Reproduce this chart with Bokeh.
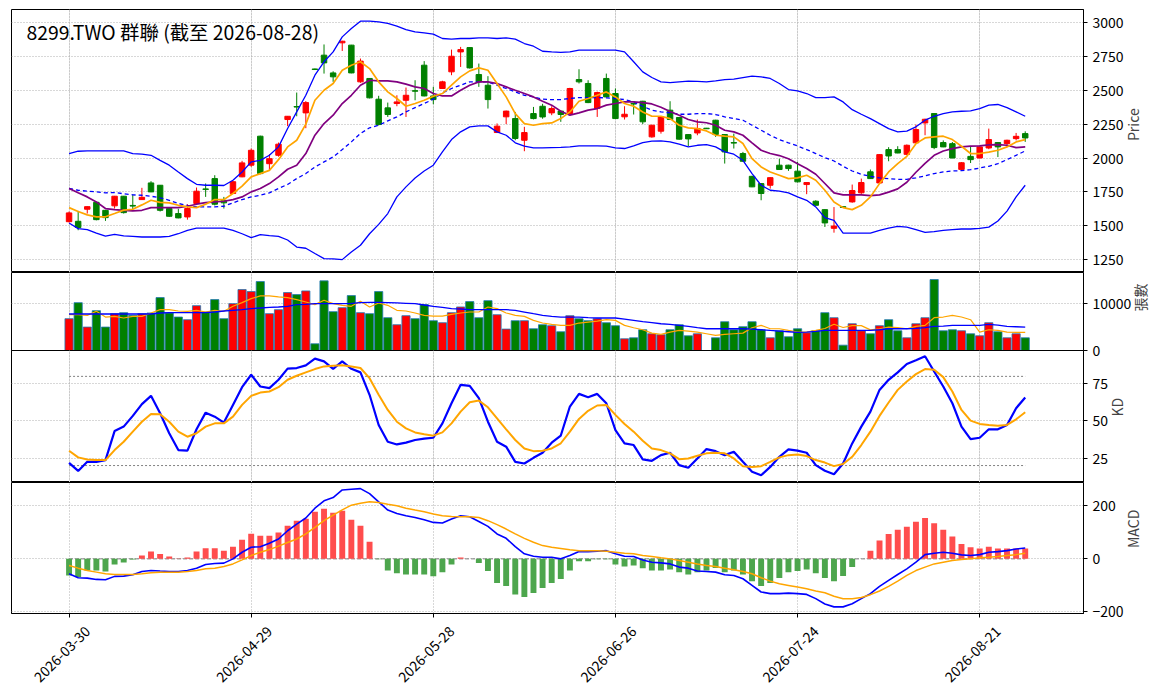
from math import pi

from bokeh.embed import file_html
from bokeh.layouts import column
from bokeh.models import ColumnDataSource, FixedTicker, Grid, Label, LinearAxis, Range1d
from bokeh.plotting import figure
from bokeh.resources import INLINE

TITLE = "8299.TWO 群聯 (截至 2026-08-28)"
FONT = "Noto Sans CJK TC"

# x positions of the date ticks (trading-day index) and their labels
tick_pos = [0, 20, 40, 60, 80, 100]
tick_dates = ["2026-03-30", "2026-04-29", "2026-05-28", "2026-06-26", "2026-07-24", "2026-08-21"]

price_ticks = [1250, 1500, 1750, 2000, 2250, 2500, 2750, 3000]
vol_ticks = [0, 10000]
kd_ticks = [25, 50, 75]
macd_ticks = [-200, 0, 200]
kd_levels = [20, 80]

open_ = [1530, 1533, 1622, 1673, 1614, 1647, 1718, 1650, 1693, 1816,
         1799, 1627, 1590, 1565, 1664, 1772, 1848, 1688, 1738, 1861,
         1947, 2161, 1958, 2020, 2284, 2380, 2333, 2657, 2759, 2628,
         2850, 2833, 2562, 2587, 2434, 2370, 2402, 2426, 2497, 2685,
         2458, 2513, 2636, 2783, 2815, 2616, 2537, 2188, 2304, 2291,
         2131, 2328, 2382, 2333, 2346, 2328, 2579, 2550, 2365, 2587,
         2476, 2304, 2402, 2419, 2156, 2198, 2353, 2299, 2173, 2185,
         2220, 2279, 2173, 2114, 2033, 1865, 1811, 1799, 1947, 1947,
         1903, 1804, 1681, 1619, 1481, 1641, 1676, 1743, 1898, 1816,
         2062, 2062, 2027, 2112, 2259, 2328, 2114, 2106, 1916, 2012,
         2000, 2074, 2114, 2106, 2143, 2180]
high = [1605, 1610, 1643, 1675, 1616, 1720, 1720, 1730, 1780, 1829,
        1800, 1632, 1625, 1659, 1782, 1812, 1873, 1713, 1830, 1979,
        2070, 2165, 2028, 2114, 2310, 2483, 2420, 2660, 2838, 2640,
        2865, 2835, 2734, 2590, 2459, 2409, 2463, 2520, 2574, 2715,
        2525, 2570, 2800, 2820, 2818, 2697, 2604, 2255, 2350, 2340,
        2230, 2377, 2400, 2382, 2350, 2518, 2655, 2574, 2490, 2623,
        2513, 2382, 2405, 2422, 2245, 2306, 2419, 2302, 2176, 2284,
        2222, 2282, 2176, 2180, 2045, 1868, 1815, 1858, 1995, 1950,
        1971, 1822, 1688, 1622, 1638, 1642, 1804, 1848, 1915, 2028,
        2080, 2087, 2100, 2247, 2290, 2330, 2130, 2118, 1970, 2082,
        2085, 2217, 2118, 2135, 2185, 2197]
low = [1525, 1467, 1590, 1540, 1536, 1627, 1590, 1620, 1690, 1748,
       1605, 1565, 1555, 1545, 1660, 1713, 1650, 1627, 1735, 1858,
       1935, 1880, 1910, 2010, 2235, 2308, 2220, 2650, 2623, 2562,
       2790, 2625, 2555, 2440, 2240, 2303, 2382, 2303, 2426, 2455,
       2397, 2510, 2611, 2672, 2660, 2525, 2365, 2185, 2250, 2131,
       2050, 2285, 2290, 2316, 2267, 2325, 2550, 2405, 2303, 2448,
       2288, 2284, 2321, 2250, 2150, 2180, 2280, 2135, 2087, 2168,
       2214, 2156, 1959, 2070, 1975, 1785, 1688, 1774, 1913, 1905,
       1820, 1733, 1648, 1491, 1449, 1633, 1670, 1735, 1845, 1812,
       1976, 2035, 2020, 2108, 2168, 2065, 2080, 1998, 1905, 1963,
       1998, 2065, 2007, 2082, 2130, 2119]
close = [1595, 1487, 1641, 1545, 1560, 1718, 1597, 1645, 1710, 1750,
         1614, 1570, 1558, 1627, 1755, 1768, 1659, 1669, 1825, 1964,
         2057, 1885, 1995, 2102, 2308, 2376, 2409, 2653, 2702, 2599,
         2862, 2628, 2715, 2444, 2247, 2321, 2414, 2463, 2493, 2458,
         2431, 2562, 2751, 2800, 2665, 2562, 2431, 2235, 2346, 2144,
         2188, 2291, 2303, 2365, 2321, 2513, 2562, 2409, 2483, 2451,
         2291, 2323, 2398, 2267, 2242, 2304, 2284, 2139, 2141, 2218,
         2216, 2173, 2045, 2110, 1976, 1787, 1738, 1855, 1915, 1922,
         1824, 1819, 1651, 1521, 1498, 1635, 1760, 1819, 1848, 2025,
         2015, 2037, 2094, 2210, 2286, 2077, 2082, 2000, 1965, 1988,
         2082, 2136, 2082, 2131, 2160, 2148]

ma5 = [1634, 1605, 1580, 1566, 1566, 1590, 1615, 1622, 1654, 1688,
       1672, 1669, 1651, 1639, 1634, 1659, 1693, 1693, 1738, 1792,
       1861, 1885, 1909, 1988, 2082, 2131, 2250, 2426, 2500, 2550,
       2648, 2685, 2710, 2660, 2562, 2488, 2439, 2382, 2402, 2426,
       2456, 2476, 2537, 2599, 2643, 2665, 2648, 2550, 2451, 2328,
       2254, 2242, 2254, 2259, 2291, 2340, 2419, 2439, 2463, 2488,
       2451, 2402, 2382, 2340, 2308, 2308, 2291, 2242, 2222, 2217,
       2200, 2168, 2161, 2156, 2107, 1995, 1934, 1897, 1873, 1848,
       1853, 1873, 1836, 1762, 1676, 1634, 1619, 1651, 1713, 1811,
       1897, 1958, 2012, 2106, 2148, 2156, 2161, 2136, 2087, 2033,
       2033, 2043, 2057, 2082, 2119, 2136]
ma10 = [1775, 1743, 1713, 1676, 1627, 1619, 1614, 1610, 1614, 1634,
        1634, 1634, 1634, 1644, 1659, 1671, 1676, 1681, 1693, 1713,
        1750, 1775, 1811, 1861, 1917, 1947, 2033, 2168, 2254, 2316,
        2402, 2463, 2537, 2574, 2569, 2569, 2562, 2545, 2525, 2513,
        2476, 2458, 2458, 2500, 2537, 2562, 2562, 2550, 2525, 2500,
        2476, 2451, 2419, 2390, 2345, 2316, 2333, 2353, 2365, 2390,
        2402, 2414, 2414, 2409, 2399, 2375, 2343, 2316, 2284, 2267,
        2260, 2242, 2205, 2193, 2168, 2112, 2057, 2033, 2018, 1995,
        1958, 1922, 1880, 1812, 1743, 1728, 1728, 1728, 1723, 1728,
        1748, 1772, 1821, 1895, 1961, 2020, 2052, 2069, 2082, 2087,
        2089, 2097, 2099, 2094, 2077, 2082]
bb_mid = [1775, 1762, 1755, 1750, 1743, 1745, 1736, 1728, 1725, 1718,
          1706, 1688, 1664, 1651, 1639, 1639, 1639, 1644, 1669, 1693,
          1713, 1725, 1743, 1775, 1805, 1848, 1885, 1934, 1971, 2008,
          2062, 2119, 2181, 2223, 2242, 2274, 2304, 2340, 2372, 2402,
          2434, 2480, 2513, 2537, 2562, 2562, 2562, 2537, 2513, 2488,
          2463, 2451, 2434, 2431, 2431, 2439, 2446, 2446, 2446, 2444,
          2439, 2431, 2414, 2382, 2353, 2340, 2333, 2323, 2323, 2328,
          2328, 2321, 2304, 2291, 2279, 2242, 2205, 2168, 2136, 2112,
          2089, 2062, 2033, 2003, 1978, 1939, 1904, 1880, 1865, 1853,
          1848, 1843, 1843, 1853, 1868, 1885, 1897, 1904, 1907, 1914,
          1926, 1939, 1958, 1988, 2020, 2052]
bb_up = [2033, 2050, 2052, 2052, 2052, 2052, 2052, 2033, 2028, 2020,
         1983, 1947, 1897, 1848, 1806, 1799, 1799, 1797, 1836, 1897,
         1971, 1983, 2020, 2082, 2218, 2340, 2463, 2611, 2710, 2783,
         2894, 2956, 3010, 3010, 3005, 2993, 2973, 2948, 2931, 2924,
         2914, 2882, 2877, 2882, 2882, 2887, 2887, 2882, 2887, 2877,
         2845, 2825, 2788, 2783, 2780, 2783, 2796, 2796, 2796, 2796,
         2796, 2783, 2710, 2636, 2594, 2562, 2557, 2562, 2567, 2565,
         2562, 2569, 2579, 2582, 2594, 2604, 2599, 2587, 2550, 2505,
         2495, 2476, 2446, 2446, 2451, 2414, 2357, 2323, 2291, 2254,
         2217, 2193, 2198, 2230, 2279, 2308, 2328, 2340, 2345, 2348,
         2365, 2390, 2395, 2372, 2340, 2308]
bb_low = [1520, 1479, 1472, 1446, 1424, 1437, 1425, 1422, 1417, 1417,
          1417, 1422, 1441, 1466, 1483, 1483, 1483, 1483, 1466, 1441,
          1412, 1434, 1427, 1422, 1395, 1343, 1334, 1295, 1257, 1255,
          1250, 1307, 1356, 1441, 1510, 1590, 1713, 1787, 1853, 1904,
          1947, 2045, 2136, 2193, 2230, 2237, 2237, 2193, 2168, 2112,
          2087, 2075, 2075, 2077, 2078, 2082, 2089, 2089, 2089, 2087,
          2075, 2070, 2089, 2114, 2124, 2126, 2119, 2102, 2082, 2094,
          2099, 2082, 2045, 2028, 1983, 1885, 1799, 1762, 1755, 1743,
          1713, 1688, 1639, 1560, 1540, 1446, 1446, 1446, 1446, 1466,
          1483, 1495, 1490, 1471, 1451, 1456, 1466, 1471, 1476, 1476,
          1480, 1490, 1535, 1608, 1713, 1799]

volume = [6790, 10210, 5000, 8500, 5000, 7860, 8070, 7500, 7860, 8000,
          11290, 8000, 7140, 6570, 9570, 8210, 10860, 6790, 10000, 13000,
          12570, 14710, 7860, 8710, 12360, 11930, 12710, 1430, 14860, 8290,
          9140, 11710, 8070, 7860, 12570, 7000, 5500, 7430, 6790, 9790,
          6360, 5930, 8070, 9290, 10430, 7000, 10640, 7640, 4570, 6360,
          6360, 4640, 5500, 5290, 4000, 7430, 6790, 6360, 6790, 5930,
          5290, 2500, 2710, 4430, 3570, 3360, 4430, 5500, 3140, 3570,
          0, 2710, 6140, 4430, 5070, 6140, 4430, 2710, 4210, 2930,
          4640, 3790, 4210, 8070, 7000, 1140, 5710, 4210, 3570, 5290,
          6570, 4210, 2710, 5710, 7000, 15140, 4210, 4430, 4210, 3570,
          3140, 5930, 4000, 2710, 3570, 2710]
vol_ma5 = [7640, 7640, 7500, 8360, 7140, 7280, 6930, 7280, 7280, 8000,
           8710, 8710, 8430, 8360, 8570, 8210, 8570, 8360, 9430, 10210,
           11070, 11640, 11640, 11430, 11290, 10850, 10350, 9780, 10710, 10000,
           9640, 9430, 10500, 9280, 10140, 9640, 8570, 8430, 8000, 7500,
           7350, 7350, 7710, 8000, 8210, 8210, 9280, 8930, 8000, 7500,
           7280, 6430, 5860, 5570, 5360, 5360, 5860, 6070, 6280, 6570,
           6430, 5360, 4860, 4430, 3710, 3430, 3930, 4280, 4140, 3930,
           3570, 3210, 3430, 3570, 3710, 4860, 5360, 4640, 4640, 4280,
           3930, 3930, 4280, 4700, 5600, 4900, 5300, 5300, 4400, 4640,
           5000, 4860, 4640, 5140, 5360, 7000, 7140, 7500, 7140, 6570,
           3930, 4430, 4280, 3930, 3860, 3860]
vol_ma20 = [7790, 7790, 7790, 7790, 7790, 7790, 7790, 7790, 7790, 7790,
            8000, 8070, 8070, 8070, 8070, 8070, 8210, 8430, 8570, 8710,
            8930, 9070, 9210, 9280, 9430, 9780, 9850, 10000, 10000, 10000,
            10000, 10070, 10210, 10280, 10280, 10210, 10140, 10070, 10000, 9710,
            9430, 9210, 8930, 8850, 8710, 8710, 8710, 8710, 8710, 8570,
            8210, 7850, 7500, 7280, 7140, 7140, 7140, 7000, 6930, 6930,
            6930, 6710, 6430, 6140, 5930, 5710, 5570, 5360, 5140, 4860,
            4640, 4640, 4640, 4640, 4640, 4570, 4430, 4280, 4140, 4000,
            3860, 3930, 4070, 4280, 4280, 4280, 4280, 4280, 4280, 4430,
            4640, 4640, 4640, 4710, 4860, 5140, 5210, 5360, 5360, 5360,
            5360, 5570, 5430, 5140, 5070, 5000]

k_line = [21.8, 16.4, 22.5, 22.5, 23.7, 43.2, 46.2, 53.4, 61.3, 66.9,
          55.2, 41.7, 30.4, 30.0, 44.4, 55.6, 52.9, 48.9, 60.8, 72.7,
          81.1, 73.2, 72.1, 77.7, 85.2, 85.6, 87.4, 91.9, 90.1, 85.1,
          90.1, 85.1, 82.7, 67.6, 47.3, 36.0, 34.2, 35.4, 37.2, 38.1,
          38.7, 48.4, 61.9, 74.3, 73.6, 65.3, 49.5, 36.0, 32.7, 22.5,
          21.4, 25.2, 28.6, 35.4, 40.2, 59.7, 68.2, 66.0, 68.2, 61.9,
          43.9, 34.9, 33.8, 24.1, 23.2, 27.0, 28.6, 20.3, 18.5, 24.8,
          31.1, 29.7, 27.0, 29.3, 22.5, 15.8, 13.5, 19.1, 25.9, 30.9,
          30.0, 28.6, 20.3, 16.5, 14.2, 21.4, 34.9, 46.2, 56.3, 70.9,
          77.7, 82.7, 88.3, 90.8, 93.5, 83.3, 73.2, 61.9, 46.2, 37.8,
          38.7, 44.4, 44.4, 47.3, 58.6, 65.8]
d_line = [30.0, 25.5, 24.1, 23.7, 23.7, 30.4, 36.0, 42.8, 49.5, 54.7,
          54.5, 49.5, 42.8, 39.4, 41.7, 46.2, 48.4, 48.4, 52.9, 60.8,
          66.9, 69.1, 69.8, 72.7, 77.7, 80.4, 82.7, 84.9, 86.7, 87.2,
          87.4, 86.7, 85.6, 78.8, 67.6, 57.4, 49.5, 45.0, 42.3, 41.0,
          40.1, 42.3, 48.4, 56.3, 62.6, 63.7, 59.2, 51.8, 44.4, 37.2,
          31.5, 29.7, 30.0, 31.5, 35.0, 42.8, 51.4, 56.8, 60.4, 60.8,
          54.1, 48.0, 42.8, 36.7, 31.5, 30.4, 28.2, 24.3, 24.8, 26.6,
          28.2, 28.6, 28.2, 24.8, 19.6, 19.1, 19.6, 22.5, 25.5, 27.0,
          27.5, 26.4, 23.7, 22.0, 19.6, 21.0, 25.9, 33.8, 42.8, 53.4,
          62.4, 70.9, 76.6, 81.5, 84.9, 84.5, 79.5, 69.8, 57.4, 50.2,
          48.0, 47.3, 46.8, 47.3, 51.1, 55.9]

macd_hist = [-62.5, -68.8, -43.8, -43.8, -47.5, -21.0, -14.0, -2.0, 12.5, 27.5,
             18.8, 8.8, 1.0, 5.0, 27.5, 40.0, 40.0, 31.0, 46.0, 72.5,
             95.0, 87.5, 87.5, 99.0, 125.0, 144.0, 151.0, 177.5, 189.0, 174.0,
             181.0, 147.5, 125.0, 65.0, -1.0, -44.0, -54.0, -59.0, -59.0, -59.0,
             -66.0, -50.0, -21.0, 5.0, 0.5, -16.0, -46.0, -91.0, -102.5, -134.0,
             -144.0, -129.0, -110.0, -91.0, -76.0, -44.0, -9.0, -9.0, -1.0, -1.0,
             -21.0, -29.0, -25.0, -35.0, -44.0, -44.0, -40.0, -50.0, -59.0, -50.0,
             -44.0, -34.0, -50.0, -44.0, -59.0, -84.0, -102.5, -91.0, -72.5, -50.0,
             -46.0, -40.0, -54.0, -72.0, -84.0, -65.0, -31.0, 0.5, 31.0, 69.0,
             94.0, 110.0, 121.0, 140.0, 154.0, 134.0, 110.0, 84.0, 56.0, 44.0,
             39.0, 46.0, 39.0, 39.0, 39.0, 39.0]
dif = [-56, -71, -72.5, -77.5, -79, -66, -65, -60, -47.5, -44,
       -46, -47.5, -47.5, -44, -35, -21, -17.5, -16, 0, 25,
       44, 46, 59, 75, 106, 131, 154, 191, 219, 231,
       260, 262.5, 265, 246, 215, 184, 171, 162.5, 156, 147.5,
       137.5, 135, 150, 162.5, 159, 141, 122.5, 94, 77.5, 46,
       19, 10, 6, 6, 0, 12.5, 27.5, 27.5, 29, 31,
       19, 10, 9, -4, -12.5, -15, -19, -31, -35, -46,
       -47.5, -50, -60, -62.5, -75, -100, -125, -131, -131, -129,
       -131, -134, -150, -170, -181, -181, -169, -150, -131, -104,
       -81, -59, -37.5, -12.5, 16, 21, 25, 21, 15, 12.5,
       16, 25, 27.5, 31, 37.5, 41]
dea = [-25, -35, -44, -50, -56, -59, -59, -59, -56, -52.5,
       -50, -50, -50, -47.5, -44, -37.5, -35, -29, -19, -4,
       12.5, 25, 35, 48, 62, 75, 94, 119, 144, 165,
       185, 202.5, 210, 215, 212.5, 206, 200, 191, 184, 177.5,
       169, 162.5, 160, 159, 159, 156, 144, 129, 112.5, 94,
       77.5, 62.5, 50, 44, 39, 34, 31, 31, 31, 29,
       25, 21, 19, 12.5, 9, 4, 0, -6, -12.5, -19,
       -25, -29, -35, -41, -47.5, -56, -71, -84, -94, -100,
       -106, -112.5, -121, -128, -141, -150, -150, -146, -135, -121,
       -104, -84, -62.5, -44, -31, -19, -12.5, -6, -2.5, 0,
       4, 6, 9, 12.5, 16, 21]

n = len(close)
idx = list(range(n))
UP, DOWN = "#ff0000", "#008000"
candle_color = [UP if c >= o else DOWN for o, c in zip(open_, close)]

source = ColumnDataSource(dict(
    x=idx, open=open_, high=high, low=low, close=close,
    top=[max(o, c) for o, c in zip(open_, close)],
    bottom=[min(o, c) for o, c in zip(open_, close)],
    color=candle_color, volume=volume,
    ma5=ma5, ma10=ma10, bb_mid=bb_mid, bb_up=bb_up, bb_low=bb_low,
    vol_ma5=vol_ma5, vol_ma20=vol_ma20, k=k_line, d=d_line,
    hist=macd_hist, dif=dif, dea=dea,
    hist_color=["#ff4d4d" if h >= 0 else "#4da64d" for h in macd_hist],
))

X_START, X_END = -6.32, 111.4
x_range = Range1d(X_START, X_END)
GRID = "#b0b0b0"
FRAME_W = 1072
LABEL_SHIFT = 2.0  # date labels are centred on their tick, Bokeh ends them there
OVERLAP = 12       # strip under the volume panel that the KD panel covers


def make_panel(frame_height, y_start, y_end, ticks, label, bottom_axis=False,
               top=0, bottom=0):
    p = figure(frame_width=FRAME_W, frame_height=frame_height, x_range=x_range,
               y_range=Range1d(y_start, y_end), y_axis_location="right",
               x_axis_location="below" if bottom_axis else None,
               toolbar_location=None, tools="", output_backend="svg",
               min_border_left=11, min_border_top=top, min_border_bottom=bottom,
               min_border_right=10)
    p.outline_line_color = "black"
    p.outline_line_width = 1
    p.background_fill_color = "white"

    ax = p.yaxis[0]
    ax.ticker = FixedTicker(ticks=ticks)
    ax.minor_tick_line_color = None
    ax.major_tick_in = 0
    ax.major_tick_out = 4
    ax.axis_line_color = "black"
    ax.major_label_text_font = FONT
    ax.major_label_text_font_size = "14px"
    ax.major_label_text_color = "black"
    ax.axis_label = label
    ax.axis_label_text_font = FONT
    ax.axis_label_text_font_size = "14px"
    ax.axis_label_text_font_style = "normal"
    ax.axis_label_standoff = 6
    ax.axis_label_orientation = pi / 2

    p.ygrid.grid_line_color = GRID
    p.ygrid.grid_line_dash = "1 2"
    if bottom_axis:
        # tick marks only
        xa = p.xaxis[0]
        xa.ticker = FixedTicker(ticks=tick_pos)
        xa.major_label_overrides = {t: "" for t in tick_pos}
        xa.major_label_text_font_size = "1px"
        xa.major_label_standoff = 0
        xa.minor_tick_line_color = None
        xa.major_tick_in = 0
        xa.major_tick_out = 4
        p.xgrid.ticker = FixedTicker(ticks=tick_pos)
        p.xgrid.grid_line_color = GRID
        p.xgrid.grid_line_dash = "1 2"
        # rotated date labels on a shifted copy of the x range
        p.extra_x_ranges = {"labels": Range1d(X_START - LABEL_SHIFT, X_END - LABEL_SHIFT)}
        xb = LinearAxis(x_range_name="labels", ticker=FixedTicker(ticks=tick_pos),
                        major_label_overrides=dict(zip(tick_pos, tick_dates)),
                        major_label_orientation=pi / 4, major_label_standoff=5,
                        axis_line_color=None, major_tick_line_color=None,
                        minor_tick_line_color=None, major_label_text_font=FONT,
                        major_label_text_font_size="14px", major_label_text_color="black")
        p.add_layout(xb, "below")
    else:
        p.add_layout(Grid(dimension=0, ticker=FixedTicker(ticks=tick_pos),
                          grid_line_color=GRID, grid_line_dash="1 2"))
    return p


# price panel: candles, moving averages, Bollinger bands
p1 = make_panel(263, 1155, 3096, price_ticks, "Price", top=9)
p1.segment(x0="x", y0="low", x1="x", y1="high", color="color", line_width=1, source=source)
p1.vbar(x="x", bottom="bottom", top="top", width=0.6, fill_color="color",
        line_color="color", line_width=1, source=source)
p1.line("x", "bb_up", color="#0000ff", line_width=1.3, source=source)
p1.line("x", "bb_low", color="#0000ff", line_width=1.3, source=source)
p1.line("x", "bb_mid", color="#0000ff", line_width=1.3, line_dash="4 3", source=source)
p1.line("x", "ma10", color="#800080", line_width=1.7, source=source)
p1.line("x", "ma5", color="#ffa500", line_width=1.7, source=source)
p1.add_layout(Label(x=15, y=241, x_units="screen", y_units="screen", text=TITLE,
                    text_font=FONT, text_font_size="19.4px", text_baseline="middle",
                    text_color="black"))

# volume panel: a transparent strip below it keeps its "0" label whole,
# the KD panel is pulled up over that strip
p2 = make_panel(78, 0, 16640, vol_ticks, "張數", bottom=OVERLAP)
p2.border_fill_alpha = 0
p2.vbar(x="x", top="volume", bottom=0, width=0.9, fill_color="color",
        line_color="#1f77b4", line_width=0.8, source=source)
p2.line("x", "vol_ma5", color="#ffa500", line_width=1.2, source=source)
p2.line("x", "vol_ma20", color="#0000ff", line_width=1.3, source=source)

# KD panel
p3 = make_panel(132, 8.6, 97.4, kd_ticks, "KD")
p3.margin = (-OVERLAP, 0, 0, 0)
p3.background_fill_alpha = 0
p3.border_fill_alpha = 0
for level in kd_levels:
    p3.line(x=[idx[0], idx[-1]], y=[level, level], color="#808080",
            line_width=1, line_dash="2 2")
p3.line("x", "k", color="#0000ff", line_width=2.2, source=source)
p3.line("x", "d", color="#ffa500", line_width=2.0, source=source)

# MACD panel
p4 = make_panel(131, -206, 288, macd_ticks, "MACD", bottom_axis=True, bottom=78)
p4.line(x=[idx[0], idx[-1]], y=[0, 0], color="#808080", line_width=1, line_dash="4 2")
p4.vbar(x="x", top="hist", bottom=0, width=0.65, fill_color="hist_color",
        line_color=None, source=source)
p4.line("x", "dif", color="#0000ff", line_width=1.6, source=source)
p4.line("x", "dea", color="#ffa500", line_width=1.5, source=source)

layout = column(p1, p2, p3, p4, spacing=0)
open("out.html", "w").write(file_html(layout, INLINE, title="8299.TWO"))
